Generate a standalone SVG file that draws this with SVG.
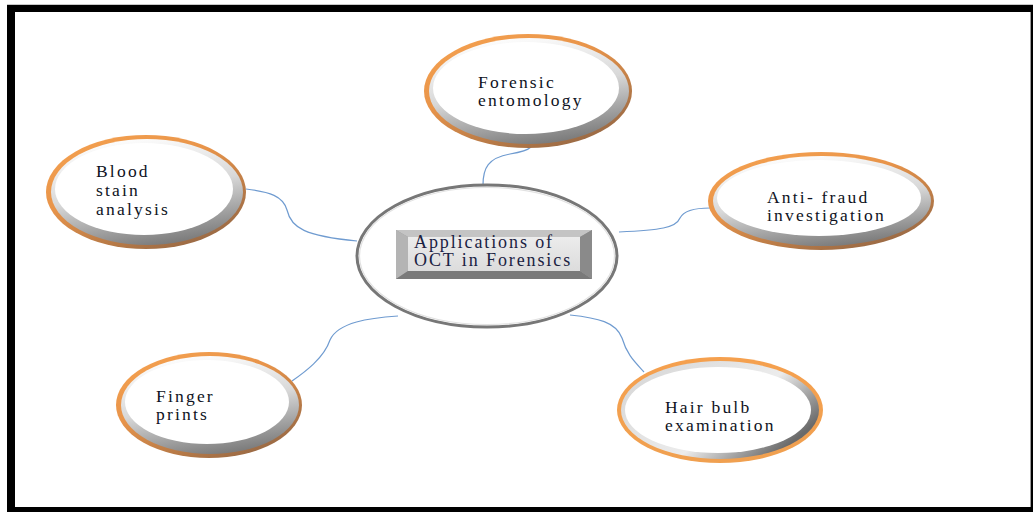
<svg xmlns="http://www.w3.org/2000/svg" width="1033" height="512" viewBox="0 0 1033 512">
<defs>
<linearGradient id="rim" x1="0" y1="0" x2="0.7" y2="1">
<stop offset="0" stop-color="#f7a350"/>
<stop offset="0.45" stop-color="#e8944a"/>
<stop offset="1" stop-color="#9a6a45"/>
</linearGradient>
<linearGradient id="silver" x1="0.3" y1="0" x2="0.6" y2="1">
<stop offset="0" stop-color="#ffffff"/>
<stop offset="0.5" stop-color="#d8d8d8"/>
<stop offset="1" stop-color="#7a7a7a"/>
</linearGradient>
<linearGradient id="rimHair" x1="0" y1="0" x2="0" y2="1">
<stop offset="0" stop-color="#f5a04e"/>
<stop offset="1" stop-color="#f0a050"/>
</linearGradient>
<linearGradient id="silverHair" x1="0" y1="0" x2="1" y2="0.6">
<stop offset="0" stop-color="#d4d4d4"/>
<stop offset="0.65" stop-color="#ececec"/>
<stop offset="1" stop-color="#6a6a6a"/>
</linearGradient>
<linearGradient id="face" x1="0" y1="0" x2="0" y2="1">
<stop offset="0" stop-color="#ececec"/>
<stop offset="1" stop-color="#dcdcdc"/>
</linearGradient>
</defs>
<style>
.rim{fill:url(#rim);}
.sil{fill:url(#silver);}
.in{fill:#ffffff;}
.t{font-family:"Liberation Serif","Times New Roman",serif;font-size:17.5px;letter-spacing:2.2px;fill:#0e1222;}
.tc{font-family:"Liberation Serif","Times New Roman",serif;font-size:18px;letter-spacing:1.9px;fill:#1a2242;}
.c{fill:none;stroke:#6f9bd0;stroke-width:1.2;}
</style>
<rect x="7" y="4" width="1026" height="508" fill="#000000"/>
<line x1="7" y1="4.5" x2="1033" y2="4.5" stroke="#c8c8c8" stroke-width="1"/>
<rect x="15" y="12" width="1015" height="495" fill="#ffffff"/>
<line x1="1030.5" y1="12" x2="1030.5" y2="507" stroke="#9a9a9a" stroke-width="1"/>

<g id="connectors">
<path class="c" d="M483,185 C483,168 488,158 510,154 C522,152 528,150 531,147"/>
<path class="c" d="M246,189 C270,192 283,196 287,210 C291,228 305,236 357,241"/>
<path class="c" d="M619,232 C660,230 676,228 680,218 C684,210 696,208 710,208"/>
<path class="c" d="M570,315 C598,318 616,322 622,338 C627,355 635,362 644,372"/>
<path class="c" d="M398,316 C370,318 338,322 330,340 C324,358 305,372 292,381"/>
</g>

<g id="center">
<ellipse cx="487" cy="256" rx="130" ry="71" fill="#ffffff" stroke="#777777" stroke-width="3"/>
<ellipse cx="487" cy="256" rx="127.5" ry="68.5" fill="none" stroke="#e2e2e2" stroke-width="1.2"/>
<rect x="396" y="230" width="196" height="49" fill="#9a9a9a"/>
<polygon points="396,230 592,230 580,237 408,237" fill="#c4c4c4"/>
<polygon points="396,230 408,237 408,271 396,279" fill="#b4b4b4"/>
<polygon points="396,279 408,271 580,271 592,279" fill="#7a7a7a"/>
<polygon points="592,230 580,237 580,271 592,279" fill="#8a8a8a"/>
<rect x="408" y="237" width="172" height="34" fill="url(#face)"/>
<text class="tc" x="414" y="248">Applications of</text>
<text class="tc" x="414" y="266">OCT in Forensics</text>
</g>

<g id="forensic-entomology">
<ellipse class="rim" cx="528" cy="91" rx="104" ry="57"/>
<ellipse class="sil" cx="529" cy="91" rx="100" ry="53"/>
<ellipse class="in" cx="526" cy="88" rx="93" ry="46"/>
<text class="t" x="478" y="88">Forensic</text>
<text class="t" x="478" y="106">entomology</text>
</g>

<g id="blood-stain-analysis">
<ellipse class="rim" cx="146" cy="192" rx="100" ry="57"/>
<ellipse class="sil" cx="147" cy="192" rx="96" ry="53"/>
<ellipse class="in" cx="144" cy="189" rx="89" ry="46"/>
<text class="t" x="96" y="177">Blood</text>
<text class="t" x="96" y="196">stain</text>
<text class="t" x="96" y="215">analysis</text>
</g>

<g id="anti-fraud-investigation">
<ellipse class="rim" cx="821" cy="201" rx="113" ry="49"/>
<ellipse class="sil" cx="822" cy="201" rx="109" ry="45"/>
<ellipse class="in" cx="819" cy="198" rx="102" ry="38"/>
<text class="t" x="767" y="203">Anti- fraud</text>
<text class="t" x="767" y="221">investigation</text>
</g>

<g id="hair-bulb-examination">
<ellipse cx="720" cy="410" rx="103" ry="53" fill="url(#rimHair)"/>
<ellipse cx="720" cy="410" rx="99" ry="49" fill="url(#silverHair)"/>
<ellipse class="in" cx="718" cy="410" rx="93" ry="43"/>
<text class="t" x="665" y="413">Hair bulb</text>
<text class="t" x="665" y="431">examination</text>
</g>

<g id="finger-prints">
<ellipse class="rim" cx="209" cy="405" rx="93" ry="53"/>
<ellipse class="sil" cx="210" cy="405" rx="89" ry="49"/>
<ellipse class="in" cx="207" cy="402" rx="82" ry="42"/>
<text class="t" x="156" y="402">Finger</text>
<text class="t" x="156" y="420">prints</text>
</g>
</svg>
